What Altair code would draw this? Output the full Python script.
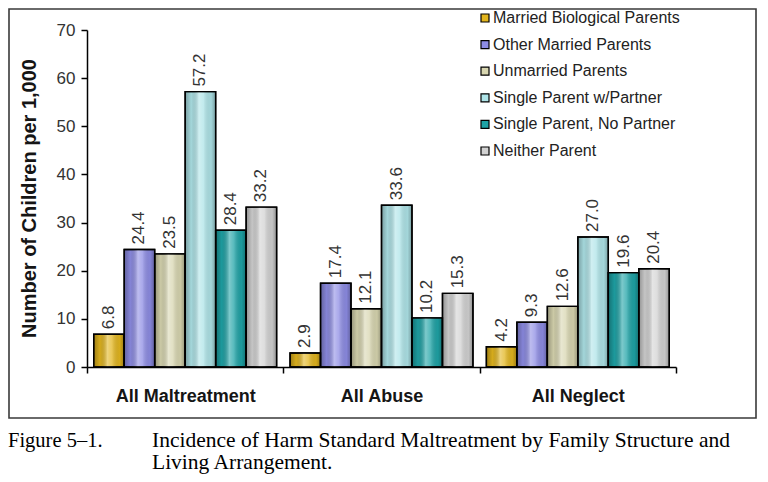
import altair as alt
import pandas as pd

groups = ["All Maltreatment", "All Abuse", "All Neglect"]
series = [
    "Married Biological Parents",
    "Other Married Parents",
    "Unmarried Parents",
    "Single Parent w/Partner",
    "Single Parent, No Partner",
    "Neither Parent",
]
maltreatment = [6.8, 24.4, 23.5, 57.2, 28.4, 33.2]
abuse = [2.9, 17.4, 12.1, 33.6, 10.2, 15.3]
neglect = [4.2, 9.3, 12.6, 27.0, 19.6, 20.4]
colors = ["#e2b51e", "#8d8ce4", "#d8d6b0", "#aee4e8", "#1ea3a6", "#d2d2d2"]
y_ticks = [0, 10, 20, 30, 40, 50, 60, 70]

caption_num = "Figure 5\u20131."
caption_line1 = "Incidence of Harm Standard Maltreatment by Family Structure and"
caption_line2 = "Living Arrangement."

rows = []
for g, vals in zip(groups, [maltreatment, abuse, neglect]):
    for s, v in zip(series, vals):
        rows.append({"group": g, "series": s, "value": v})
df = pd.DataFrame(rows)

FONT = "Liberation Sans"

x = alt.X(
    "group:N",
    sort=groups,
    scale=alt.Scale(paddingInner=0, paddingOuter=0),
    axis=alt.Axis(
        title=None,
        tickBand="extent",
        labelAngle=0,
        labelFont=FONT,
        labelFontSize=18,
        labelFontWeight="bold",
        labelColor="#151515",
        labelPadding=14,
        domainColor="black",
        domainWidth=1.5,
        tickColor="black",
        tickWidth=1.5,
        tickSize=6,
    ),
)
xo = alt.XOffset(
    "series:N", sort=series, scale=alt.Scale(paddingOuter=0.22, paddingInner=0)
)
y = alt.Y(
    "value:Q",
    scale=alt.Scale(domain=[0, 70], nice=False),
    axis=alt.Axis(
        values=y_ticks,
        grid=False,
        title="Number of Children per 1,000",
        titleFont=FONT,
        titleFontSize=20,
        titleFontWeight="bold",
        titleColor="#151515",
        titleAngle=270,
        titleX=-52,
        titleY=168,
        titleBaseline="alphabetic",
        titleAlign="center",
        labelFont=FONT,
        labelFontSize=17,
        labelColor="#333333",
        labelPadding=6,
        domainColor="black",
        domainWidth=1.5,
        tickColor="black",
        tickWidth=1.5,
        tickSize=6,
    ),
)

base = alt.Chart(df)

bars = base.mark_bar(stroke="black", strokeWidth=1.4).encode(
    x=x,
    xOffset=xo,
    y=y,
    color=alt.Color(
        "series:N",
        sort=series,
        scale=alt.Scale(domain=series, range=colors),
        legend=alt.Legend(
            title=None,
            orient="none",
            legendX=390,
            legendY=-20,
            padding=0,
            symbolType="square",
            symbolSize=64,
            symbolStrokeColor="black",
            symbolStrokeWidth=1.2,
            labelFont=FONT,
            labelFontSize=16,
            labelColor="#222222",
            labelOffset=0,
            rowPadding=10.6,
            labelLimit=300,
        ),
    ),
)

shine = base.mark_bar(
    stroke="black",
    strokeWidth=1.4,
    fill=alt.Gradient(
        gradient="linear",
        x1=0, x2=1, y1=0, y2=0,
        stops=[
            alt.GradientStop(offset=0, color="rgba(0,0,0,0.30)"),
            alt.GradientStop(offset=0.2, color="rgba(0,0,0,0.06)"),
            alt.GradientStop(offset=0.45, color="rgba(255,255,255,0.42)"),
            alt.GradientStop(offset=0.6, color="rgba(255,255,255,0.25)"),
            alt.GradientStop(offset=0.85, color="rgba(0,0,0,0.06)"),
            alt.GradientStop(offset=1, color="rgba(0,0,0,0.30)"),
        ],
    ),
).encode(x=x, xOffset=xo, y=y)

labels = base.mark_text(
    angle=270,
    align="left",
    baseline="middle",
    dx=5,
    font=FONT,
    fontSize=17,
    color="#333333",
).encode(x=x, xOffset=xo, y=y, text=alt.Text("value:Q", format=".1f"))

one = alt.Chart(pd.DataFrame({"k": [0]}))

frame = one.mark_rect(fill="transparent", stroke="#3a3a3a", strokeWidth=1.6).encode(
    x=alt.value(-78), x2=alt.value(669), y=alt.value(-21), y2=alt.value(388)
)

cap_font = "Liberation Serif"
cap1 = one.mark_text(
    text=caption_num, font=cap_font, fontSize=20.5, align="left",
    baseline="alphabetic", color="black",
).encode(x=alt.value(-79), y=alt.value(417))
cap2 = one.mark_text(
    text=caption_line1, font=cap_font, fontSize=21.5, align="left",
    baseline="alphabetic", color="black",
).encode(x=alt.value(65), y=alt.value(417))
cap3 = one.mark_text(
    text=caption_line2, font=cap_font, fontSize=21.5, align="left",
    baseline="alphabetic", color="black",
).encode(x=alt.value(65), y=alt.value(439))

chart = (
    alt.layer(frame, bars, shine, labels, cap1, cap2, cap3)
    .properties(
        width=589,
        height=337,
        autosize=alt.AutoSizeParams(type="none"),
        padding={"left": 79, "top": 22, "right": 84, "bottom": 107},
        background="white",
    )
    .configure_view(stroke=None)
)

chart.save("out.html", embed_options={"renderer": "svg", "actions": False})
